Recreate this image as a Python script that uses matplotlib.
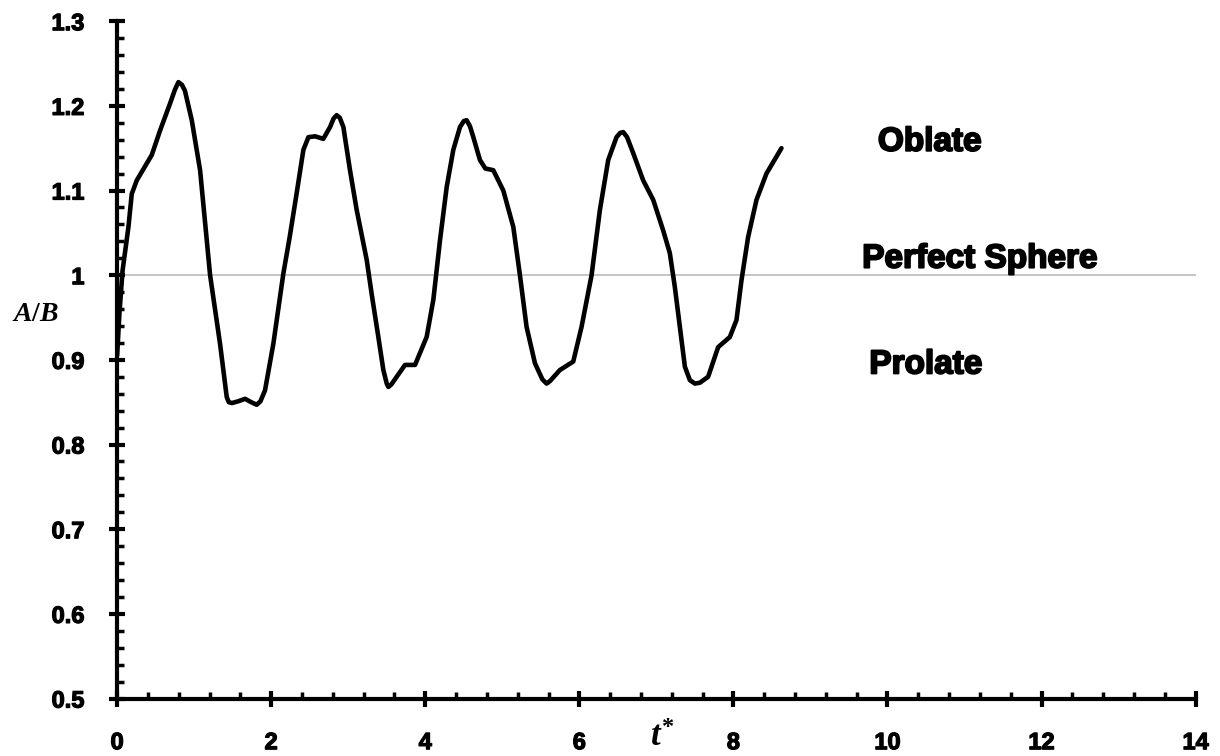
import matplotlib
matplotlib.use("Agg")
import matplotlib.pyplot as plt
import matplotlib.patheffects as pe
from matplotlib.ticker import MultipleLocator

# A/B over dimensionless time t*
t_star = [0.00, 0.03, 0.07, 0.147, 0.19, 0.255, 0.385, 0.45, 0.558, 0.688, 0.75, 0.796,
          0.84, 0.88, 0.969, 1.077, 1.207, 1.336, 1.423, 1.45, 1.49, 1.57, 1.661, 1.74,
          1.812, 1.86, 1.92, 2.028, 2.158, 2.24, 2.331, 2.418, 2.483, 2.57, 2.677, 2.764,
          2.81, 2.85, 2.89, 2.937, 3.023, 3.11, 3.24, 3.304, 3.391, 3.456, 3.50, 3.521,
          3.56, 3.629, 3.737, 3.867, 4.018, 4.105, 4.191, 4.278, 4.364, 4.451, 4.50, 4.537,
          4.58, 4.624, 4.71, 4.78, 4.883, 5.013, 5.143, 5.229, 5.315, 5.424, 5.52, 5.575,
          5.62, 5.748, 5.921, 6.029, 6.159, 6.267, 6.375, 6.483, 6.53, 6.57, 6.62, 6.70,
          6.829, 6.959, 7.088, 7.175, 7.24, 7.305, 7.37, 7.435, 7.50, 7.565, 7.672, 7.802,
          7.954, 8.04, 8.105, 8.191, 8.30, 8.429, 8.624]
ratio = [0.905, 0.955, 1.005, 1.057, 1.096, 1.112, 1.132, 1.142, 1.171, 1.203, 1.219, 1.228,
         1.225, 1.218, 1.183, 1.124, 1.000, 0.919, 0.856, 0.850, 0.849, 0.851, 0.854, 0.850,
         0.847, 0.851, 0.864, 0.919, 1.002, 1.045, 1.097, 1.148, 1.163, 1.164, 1.161, 1.175,
         1.185, 1.189, 1.186, 1.175, 1.124, 1.077, 1.018, 0.978, 0.927, 0.888, 0.872, 0.868,
         0.871, 0.880, 0.894, 0.894, 0.927, 0.971, 1.041, 1.104, 1.148, 1.175, 1.182, 1.183,
         1.176, 1.163, 1.136, 1.126, 1.124, 1.100, 1.057, 1.000, 0.939, 0.896, 0.877, 0.872,
         0.875, 0.888, 0.898, 0.939, 1.000, 1.077, 1.136, 1.163, 1.168, 1.169, 1.163, 1.144,
         1.112, 1.089, 1.053, 1.026, 0.986, 0.939, 0.892, 0.876, 0.872, 0.873, 0.880, 0.915,
         0.927, 0.947, 0.994, 1.045, 1.089, 1.120, 1.150]

sphere_level = 1.0
region_labels = ["Oblate", "Perfect Sphere", "Prolate"]
region_pos = [(10.55, 1.157), (11.2, 1.019), (10.5, 0.894)]
ytick_vals = [0.5, 0.6, 0.7, 0.8, 0.9, 1.0, 1.1, 1.2, 1.3]
ytick_text = ["0.5", "0.6", "0.7", "0.8", "0.9", "1", "1.1", "1.2", "1.3"]

plt.rcParams['font.family'] = ['Liberation Sans', 'DejaVu Sans']
plt.rcParams['mathtext.fontset'] = 'custom'
plt.rcParams['mathtext.it'] = 'Liberation Serif:italic:bold'
plt.rcParams['mathtext.rm'] = 'Liberation Serif:bold'

fig = plt.figure(figsize=(12.2, 7.56), dpi=100)
ax = fig.add_axes([0.096, 0.076, 0.884, 0.896])

ax.axhline(sphere_level, color="#c0c0c0", lw=1.3, zorder=1)
ax.plot(t_star, ratio, color="black", lw=3.3, solid_joinstyle="round",
        solid_capstyle="round", zorder=3)

ax.set_xlim(0, 14)
ax.set_ylim(0.5, 1.3)
ax.xaxis.set_major_locator(MultipleLocator(2))
ax.xaxis.set_minor_locator(MultipleLocator(0.4))
ax.yaxis.set_minor_locator(MultipleLocator(0.02))
ax.set_yticks(ytick_vals)
ax.set_yticklabels(ytick_text)

for s in ["top", "right"]:
    ax.spines[s].set_visible(False)
for s in ["left", "bottom"]:
    ax.spines[s].set_linewidth(3)
ax.tick_params(which="major", direction="inout", length=11, width=3, pad=18,
               labelsize=17)
ax.tick_params(which="minor", direction="in", length=5, width=2.5)
for lab in ax.get_xticklabels() + ax.get_yticklabels():
    lab.set_fontweight("bold")
    lab.set_path_effects([pe.withStroke(linewidth=0.9, foreground="black")])

for txt, (x, y) in zip(region_labels, region_pos):
    ax.text(x, y, txt, ha="center", va="center", fontsize=24, fontweight="bold",
            path_effects=[pe.withStroke(linewidth=1.4, foreground="black")])

fig.text(0.0295, 0.585, r"$A/B$", ha="center", va="center", fontsize=20)
fig.text(0.543, 0.004, r"$t^{*}$", ha="center", va="bottom", fontsize=25)

fig.savefig("out.png", dpi=100)
